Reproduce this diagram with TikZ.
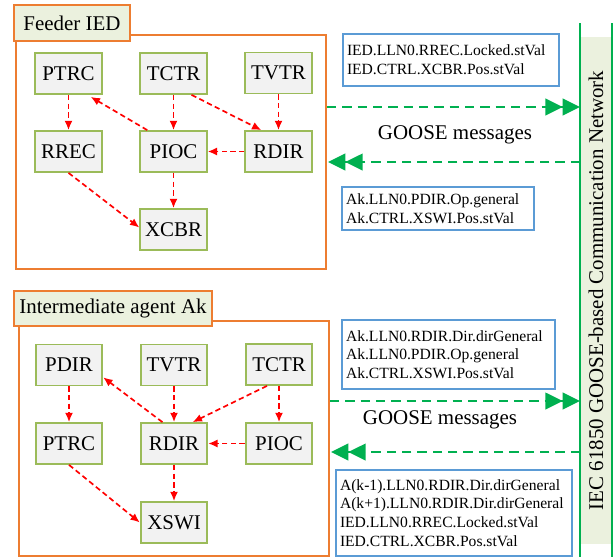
\documentclass[tikz,border=0pt]{standalone}
\usepackage{fontspec}
\setmainfont{Liberation Serif}
\usetikzlibrary{arrows.meta}

\definecolor{frameorange}{HTML}{ED7D31}
\definecolor{lnborder}{HTML}{9BBB59}
\definecolor{lnfill}{HTML}{F2F2F2}
\definecolor{tagfill}{HTML}{EBF1DE}
\definecolor{infoblue}{HTML}{5B9BD5}
\definecolor{goosegreen}{HTML}{00B050}

\newcommand{\bigfont}{\fontsize{15.7}{18}\selectfont}
\newcommand{\infofont}{\fontsize{11.7}{14}\selectfont}

\tikzset{
    ln/.style={draw=lnborder, fill=lnfill, line width=1.3pt, minimum width=50pt, minimum height=30.75pt, inner sep=0pt, font=\bigfont},
    groupframe/.style={draw=frameorange, line width=1.4pt, inner sep=0pt},
    grouptag/.style={draw=frameorange, fill=tagfill, line width=1.4pt, inner sep=0pt, font=\bigfont},
    info/.style={draw=infoblue, line width=0.9pt, align=left, inner xsep=3pt, inner ysep=0pt, font=\infofont},
    flow/.style={red, line width=1.25pt, dash pattern=on 4pt off 2.5pt, -{Latex[length=7pt,width=6pt]}},
    goose/.style={goosegreen, line width=1.4pt, dash pattern=on 7pt off 4.5pt, -{Triangle[length=13pt,width=12.5pt]Triangle[length=13pt,width=12.5pt]}},
}

\begin{document}
\begin{tikzpicture}[x=0.75pt, y=-0.75pt]

        \useasboundingbox (0, 0) rectangle (616, 557);

        % communication network bar
        \node[fill=tagfill, rotate=90, minimum width=380.25pt, minimum height=24pt, inner sep=0pt, font=\bigfont] (netBar) at (596, 290.5) {IEC 61850 GOOSE-based Communication Network};
        \coordinate (barLeftTop) at (580, 23);
        \coordinate (barLeftBot) at (580, 557);
        \coordinate (barRightTop) at (612, 23);
        \coordinate (barRightBot) at (612, 557);
        \draw[goosegreen, line width=1.8pt] (barLeftTop) -- (barLeftBot);
        \draw[goosegreen, line width=1.8pt] (barRightTop) -- (barRightBot);

        % feeder IED
        \node[groupframe, minimum width=232.5pt, minimum height=175.5pt] (feederBox) at (171, 152) {};
        \node[grouptag, minimum width=87pt, minimum height=27pt] (feederTag) at (72, 23) {Feeder IED};

        \node[ln] (ptrcF) at (68.5, 73.5) {PTRC};
        \node[ln] (tctrF) at (173.5, 73.5) {TCTR};
        \node[ln] (tvtrF) at (278.5, 73) {TVTR};
        \node[ln] (rrecF) at (68.5, 151.5) {RREC};
        \node[ln] (piocF) at (173.5, 151.5) {PIOC};
        \node[ln] (rdirF) at (278.5, 151.5) {RDIR};
        \node[ln] (xcbrF) at (173.5, 229.5) {XCBR};

        \draw[flow] (ptrcF) -- (rrecF);
        \draw[flow] (tctrF) -- (piocF);
        \draw[flow] (tvtrF) -- (rdirF);
        \draw[flow] (rdirF) -- (piocF);
        \draw[flow] (piocF) -- (xcbrF);
        \draw[flow] ([xshift=6pt]piocF.north west) -- ([xshift=-9pt, yshift=-1.5pt]ptrcF.south east);
        \draw[flow] ([xshift=13.5pt]tctrF.south) -- ([xshift=12.75pt]rdirF.north west);
        \draw[flow] (rrecF.south) -- ([yshift=1.5pt]xcbrF.west);

        % intermediate agent
        \node[groupframe, minimum width=232.5pt, minimum height=176.25pt] (agentBox) at (174, 438.5) {};
        \node[grouptag, minimum width=148.5pt, minimum height=26.25pt] (agentTag) at (113, 308.5) {Intermediate agent Ak};

        \node[ln] (pdirA) at (69, 365) {PDIR};
        \node[ln] (tvtrA) at (174, 365) {TVTR};
        \node[ln] (tctrA) at (279, 364.5) {TCTR};
        \node[ln] (ptrcA) at (69, 443.5) {PTRC};
        \node[ln] (rdirA) at (174, 443.5) {RDIR};
        \node[ln] (piocA) at (279, 443.5) {PIOC};
        \node[ln] (xswiA) at (174, 522.5) {XSWI};

        \draw[flow] (pdirA) -- (ptrcA);
        \draw[flow] (tvtrA) -- (rdirA);
        \draw[flow] (tctrA) -- (piocA);
        \draw[flow] (piocA) -- (rdirA);
        \draw[flow] (rdirA) -- (xswiA);
        \draw[flow] ([xshift=17pt]rdirA.north west) -- ([yshift=6.75pt]pdirA.south east);
        \draw[flow] ([xshift=-9pt]tctrA.south) -- ([xshift=14pt]rdirA.north);
        \draw[flow] (ptrcA.south) -- (xswiA.west);

        % GOOSE exchange, feeder side
        \coordinate (feederTxStart) at (327, 107);
        \coordinate (feederTxEnd) at (580, 107);
        \coordinate (feederRxStart) at (580, 162);
        \coordinate (feederRxEnd) at (328, 162);
        \draw[goose] (feederTxStart) -- (feederTxEnd);
        \draw[goose] (feederRxStart) -- (feederRxEnd);
        \node[font=\bigfont] (gooseF) at (455, 135) {GOOSE messages};

        \node[info, text width=156pt, minimum height=39pt] (infoFtx) at (451, 60) {IED.LLN0.RREC.Locked.stVal\\IED.CTRL.XCBR.Pos.stVal};
        \node[info, text width=138pt, minimum height=32.25pt] (infoFrx) at (438, 208.5) {Ak.LLN0.PDIR.Op.general\\Ak.CTRL.XSWI.Pos.stVal};

        % GOOSE exchange, agent side
        \coordinate (agentTxStart) at (330, 401);
        \coordinate (agentTxEnd) at (580, 401);
        \coordinate (agentRxStart) at (580, 452);
        \coordinate (agentRxEnd) at (331, 452);
        \draw[goose] (agentTxStart) -- (agentTxEnd);
        \draw[goose] (agentRxStart) -- (agentRxEnd);
        \node[font=\bigfont] (gooseA) at (440, 420) {GOOSE messages};

        \node[info, text width=153.75pt, minimum height=51.75pt] (infoAtx) at (448.5, 354.5) {Ak.LLN0.RDIR.Dir.dirGeneral\\Ak.LLN0.PDIR.Op.general\\Ak.CTRL.XSWI.Pos.stVal};
        \node[info, text width=171pt, minimum height=64.5pt] (infoArx) at (454, 513) {A(k-1).LLN0.RDIR.Dir.dirGeneral\\A(k+1).LLN0.RDIR.Dir.dirGeneral\\IED.LLN0.RREC.Locked.stVal\\IED.CTRL.XCBR.Pos.stVal};

\end{tikzpicture}
\end{document}
